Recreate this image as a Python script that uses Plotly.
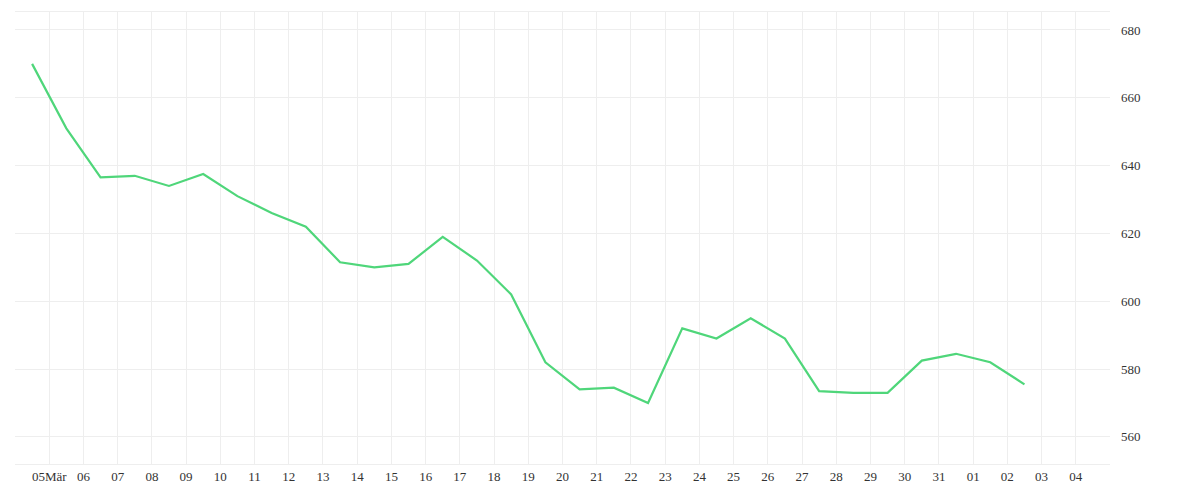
import plotly.graph_objects as go
import pandas as pd

dates = pd.date_range("2024-03-04 12:00", periods=30, freq="D")
values = [670, 651, 636.5, 637, 634, 637.5, 631, 626, 622, 611.5, 610, 611, 619, 612, 602,
          582, 574, 574.5, 570, 592, 589, 595, 589, 573.5, 573, 573, 582.5, 584.5, 582, 575.5]
tick_dates = pd.date_range("2024-03-05", "2024-04-04", freq="D")
tick_labels = ["05Mär"] + [d.strftime("%d") for d in tick_dates[1:]]

fig = go.Figure(go.Scatter(x=dates, y=values, mode="lines",
                           line=dict(color="#4fd67a", width=2.2), hoverinfo="x+y"))
fig.update_layout(
    width=1200, height=500, margin=dict(l=7, r=98, t=4, b=44),
    plot_bgcolor="white", paper_bgcolor="white", showlegend=False,
    font=dict(family="Liberation Serif", size=13, color="#333"),
    xaxis=dict(range=["2024-03-04", "2024-04-05"], tickvals=tick_dates, ticktext=tick_labels,
               showgrid=True, gridcolor="#eeeeee", zeroline=False, showline=True,
               linecolor="#eeeeee", mirror=True, ticks="", ticklen=0),
    yaxis=dict(range=[552, 685.3], side="right", dtick=20, tick0=560, showgrid=True,
               gridcolor="#eeeeee", zeroline=False, ticks="", ticklabelstandoff=10),
)
fig.write_html("out.html")
